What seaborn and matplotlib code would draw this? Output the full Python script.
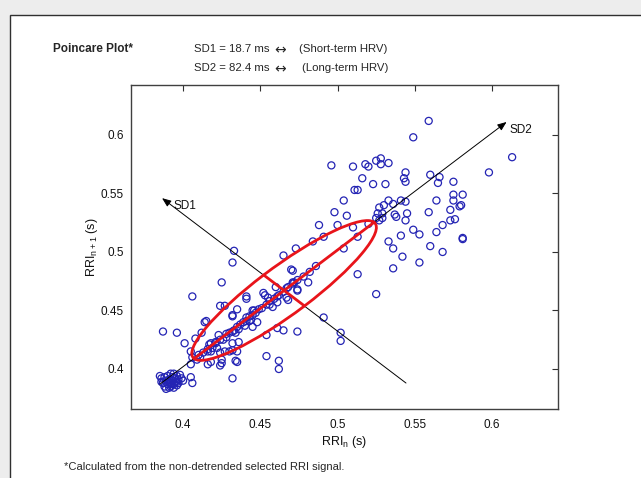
import matplotlib
matplotlib.use("Agg")
import matplotlib.pyplot as plt
from matplotlib.patches import Ellipse, Rectangle
import seaborn as sns
import pandas as pd
import numpy as np

# ---------------- data ----------------
rri_n = [
    0.559, 0.549, 0.496, 0.510, 0.518, 0.520, 0.525, 0.528, 0.528, 0.533,
    0.544, 0.543, 0.544, 0.560, 0.566, 0.565, 0.575, 0.516, 0.523, 0.531,
    0.511, 0.513, 0.504, 0.533, 0.536, 0.530, 0.527, 0.541, 0.544, 0.564,
    0.575, 0.575, 0.581, 0.579, 0.573, 0.559, 0.498, 0.506, 0.537, 0.538,
    0.545, 0.544, 0.529, 0.525, 0.529, 0.573, 0.576, 0.568, 0.500, 0.510,
    0.527, 0.549, 0.553, 0.541, 0.533, 0.536, 0.564, 0.560, 0.568, 0.581,
    0.542, 0.553, 0.536, 0.513, 0.525, 0.513, 0.504, 0.502, 0.502, 0.488,
    0.491, 0.484, 0.473, 0.465, 0.433, 0.432, 0.471, 0.481, 0.425, 0.406,
    0.441, 0.441, 0.452, 0.461, 0.474, 0.467, 0.472, 0.424, 0.427, 0.435,
    0.432, 0.446, 0.456, 0.461, 0.415, 0.445, 0.491, 0.461, 0.465, 0.474,
    0.387, 0.396, 0.401, 0.412, 0.423, 0.454, 0.462, 0.462, 0.432, 0.435,
    0.425, 0.416, 0.424, 0.405, 0.405, 0.406, 0.409, 0.405, 0.417, 0.422,
    0.430, 0.613, 0.598, 0.580, 0.581, 0.432, 0.414, 0.408, 0.434, 0.432,
    0.418, 0.421, 0.436, 0.432, 0.416, 0.424, 0.427, 0.432, 0.435, 0.406,
    0.411, 0.425, 0.434, 0.418, 0.394, 0.453, 0.455, 0.445, 0.448, 0.443,
    0.454, 0.526, 0.520, 0.470, 0.471, 0.474, 0.467, 0.468, 0.460, 0.458,
    0.441,
    # dense band along the identity line
    0.410, 0.413, 0.416, 0.419, 0.421, 0.424, 0.426, 0.428, 0.430, 0.433,
    0.435, 0.437, 0.439, 0.441, 0.443, 0.445, 0.447, 0.449, 0.451, 0.454,
    0.456, 0.459, 0.462, 0.465, 0.468, 0.471, 0.474, 0.478, 0.482, 0.486,
    0.436, 0.440, 0.444, 0.428, 0.418,
    # cluster in the lower-left corner
    0.386, 0.387, 0.388, 0.389, 0.390, 0.390, 0.391, 0.392, 0.392, 0.393,
    0.393, 0.394, 0.394, 0.395, 0.395, 0.396, 0.396, 0.397, 0.397, 0.398,
    0.389, 0.391, 0.388, 0.399, 0.386, 0.392, 0.394, 0.396, 0.391, 0.393,
    0.385, 0.400,
]
rri_n1 = [
    0.612, 0.598, 0.574, 0.573, 0.575, 0.573, 0.578, 0.580, 0.575, 0.576,
    0.568, 0.563, 0.560, 0.566, 0.564, 0.559, 0.560, 0.563, 0.558, 0.558,
    0.553, 0.553, 0.544, 0.544, 0.541, 0.540, 0.538, 0.544, 0.543, 0.544,
    0.549, 0.544, 0.549, 0.539, 0.536, 0.534, 0.534, 0.531, 0.532, 0.530,
    0.533, 0.527, 0.533, 0.529, 0.529, 0.527, 0.528, 0.523, 0.523, 0.521,
    0.527, 0.519, 0.515, 0.514, 0.509, 0.503, 0.517, 0.505, 0.500, 0.511,
    0.496, 0.491, 0.486, 0.481, 0.464, 0.513, 0.503, 0.431, 0.424, 0.523,
    0.513, 0.509, 0.503, 0.497, 0.501, 0.491, 0.484, 0.474, 0.474, 0.462,
    0.462, 0.460, 0.465, 0.462, 0.467, 0.461, 0.474, 0.454, 0.454, 0.451,
    0.446, 0.450, 0.455, 0.457, 0.441, 0.436, 0.444, 0.435, 0.433, 0.432,
    0.432, 0.431, 0.422, 0.431, 0.429, 0.411, 0.407, 0.400, 0.392, 0.406,
    0.408, 0.404, 0.403, 0.404, 0.393, 0.388, 0.408, 0.415, 0.421, 0.418,
    0.415, 0.581, 0.568, 0.540, 0.512, 0.445, 0.440, 0.426, 0.431, 0.432,
    0.422, 0.423, 0.423, 0.422, 0.415, 0.414, 0.415, 0.416, 0.415, 0.410,
    0.410, 0.405, 0.407, 0.406, 0.388, 0.463, 0.461, 0.450, 0.440, 0.441,
    0.429, 0.533, 0.524, 0.485, 0.474, 0.468, 0.469, 0.459, 0.470, 0.453,
    0.444,
    0.412, 0.414, 0.417, 0.418, 0.422, 0.425, 0.425, 0.430, 0.431, 0.433,
    0.436, 0.438, 0.440, 0.441, 0.445, 0.446, 0.448, 0.451, 0.452, 0.455,
    0.458, 0.460, 0.463, 0.466, 0.470, 0.473, 0.476, 0.479, 0.483, 0.488,
    0.434, 0.437, 0.442, 0.427, 0.415,
    0.392, 0.388, 0.385, 0.390, 0.387, 0.394, 0.391, 0.388, 0.385, 0.393,
    0.390, 0.396, 0.387, 0.392, 0.389, 0.394, 0.386, 0.391, 0.388, 0.395,
    0.383, 0.384, 0.393, 0.392, 0.389, 0.396, 0.384, 0.389, 0.389, 0.387,
    0.394, 0.390,
]

center = (0.4654, 0.4671)          # ellipse centre (mean RRI)
sd1, sd2 = 0.0187, 0.0824           # seconds
sd1_line = [(0.5443, 0.3880), (0.3864, 0.5460)]   # start, arrow tip
sd2_line = [(0.3850, 0.3870), (0.6094, 0.6111)]   # start, arrow tip
xticks = [0.4, 0.45, 0.5, 0.55, 0.6]
yticks = [0.4, 0.45, 0.5, 0.55, 0.6]
tick_labels = ["0.4", "0.45", "0.5", "0.55", "0.6"]
axis_lim = (0.3663, 0.6427)

title = "Poincare Plot*"
sd_left = ["SD1 = 18.7 ms", "SD2 = 82.4 ms"]
sd_arrow = "\u2194"
sd_right = ["(Short-term HRV)", "(Long-term HRV)"]
footnote = "*Calculated from the non-detrended selected RRI signal."

# ---------------- styling ----------------
sns.set_theme(style="white")
plt.rcParams["font.family"] = ["Liberation Sans", "DejaVu Sans"]
plt.rcParams["mathtext.default"] = "regular"

W, H = 641, 478
fig = plt.figure(figsize=(W / 100, H / 100), dpi=100)
fig.patch.set_facecolor("#ededed")
fig.patches.append(Rectangle((10 / W, -0.01), 1.0, (H - 15) / H + 0.01, transform=fig.transFigure,
                             facecolor="white", edgecolor="#303030", linewidth=1.0,
                             zorder=-5))

ax = fig.add_axes([131 / W, 69 / H, 427 / W, 324 / H])
ax.set_zorder(2)
ax.set_facecolor("white")

df = pd.DataFrame({"RRIn": rri_n, "RRIn1": rri_n1})
blue = "#2424b4"
sns.scatterplot(data=df, x="RRIn", y="RRIn1", ax=ax, marker="o", s=26,
                facecolor="none", edgecolor=blue, linewidth=0.9, legend=False,
                zorder=3)

# SD arrows
for (p0, p1) in (sd1_line, sd2_line):
    ax.annotate("", xy=p1, xytext=p0, xycoords="data",
                arrowprops=dict(arrowstyle="-|>,head_length=0.45,head_width=0.18",
                                color="black", lw=0.7, shrinkA=0, shrinkB=0),
                zorder=4, annotation_clip=False)
ax.text(0.3935, 0.539, "SD1", fontsize=8.5, ha="left", va="center", color="#111111", zorder=5)
ax.text(0.6115, 0.604, "SD2", fontsize=8.5, ha="left", va="center", color="#111111", zorder=5)

# ellipse and its axes
red = "#e8141a"
ax.add_patch(Ellipse(center, width=2 * sd2, height=2 * sd1, angle=45,
                     fill=False, edgecolor=red, linewidth=2.0, zorder=5))
d2 = sd2 / np.sqrt(2)
d1 = sd1 / np.sqrt(2)
ax.plot([center[0] - d2, center[0] + d2], [center[1] - d2, center[1] + d2],
        color=red, lw=2.0, zorder=5)
ax.plot([center[0] - d1, center[0] + d1], [center[1] + d1, center[1] - d1],
        color=red, lw=2.0, zorder=5)

ax.set_xlim(*axis_lim)
ax.set_ylim(axis_lim[0] - 0.0005, axis_lim[1])
ax.set_xticks(xticks)
ax.set_xticklabels(tick_labels)
ax.set_yticks(yticks)
ax.set_yticklabels(tick_labels)
ax.tick_params(direction="in", length=4, width=0.8, top=True, right=True,
               labelsize=8.5, colors="#303030", labelcolor="#111111")
ax.tick_params(axis="x", pad=7)
ax.tick_params(axis="y", pad=5)
for s in ax.spines.values():
    s.set_color("#404040")
    s.set_linewidth(1.0)
ax.set_xlabel("RRI$_{n}$ (s)", fontsize=9, labelpad=2, color="#111111")
ax.set_ylabel("RRI$_{n+1}$ (s)", fontsize=9, labelpad=1, color="#111111")

fig.text(53 / W, 1 - 49 / H, title, fontsize=8.5, fontweight="bold", ha="left", va="center")
for i, yy in enumerate((49, 68)):
    fig.text(194 / W, 1 - yy / H, sd_left[i], fontsize=8.2, ha="left", va="center")
    fig.text(280 / W, 1 - (yy + 1) / H, sd_arrow, fontsize=10, ha="center", va="center",
             family=["DejaVu Sans"])
    fig.text((299 + 3 * i) / W, 1 - yy / H, sd_right[i], fontsize=8.2, ha="left", va="center")
fig.text(64 / W, 1 - 467 / H, footnote, fontsize=8, ha="left", va="center")

fig.savefig("out.png", dpi=100, facecolor=fig.get_facecolor())
